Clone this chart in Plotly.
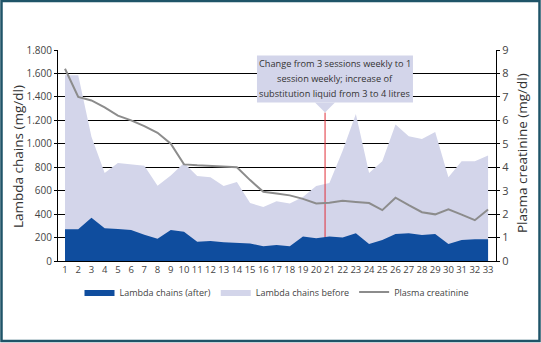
import plotly.graph_objects as go

sessions = list(range(1, 34))
lambda_before = [1585, 1585, 1060, 750, 835, 825, 812, 642, 730, 835,
                 725, 715, 640, 675, 495, 460, 510, 490, 545, 640,
                 665, 940, 1255, 750, 850, 1165, 1065, 1040, 1100, 715,
                 850, 850, 900]
lambda_after = [270, 270, 370, 280, 272, 265, 225, 190, 265, 250,
                165, 170, 160, 157, 150, 125, 137, 125, 210, 195,
                210, 200, 237, 145, 180, 231, 237, 222, 231, 145,
                180, 186, 186]
creatinine = [8.2, 7.0, 6.85, 6.55, 6.2, 6.0, 5.75, 5.47, 5.0, 4.12,
              4.08, 4.05, 4.02, 4.0, 3.45, 2.95, 2.88, 2.8, 2.65, 2.45,
              2.48, 2.57, 2.52, 2.47, 2.17, 2.7, 2.38, 2.08, 1.99, 2.2,
              1.98, 1.74, 2.2]

left_ticks = [0, 200, 400, 600, 800, 1000, 1200, 1400, 1600, 1800]
left_ticktext = ["0", "200", "400", "600", "800", "1.000", "1.200", "1.400", "1.600", "1.800"]
right_ticks = list(range(0, 10))

change_x = 20.67
note_lines = ["Change from 3 sessions weekly to 1",
              "session weekly; increase of",
              "substitution liquid from 3 to 4 litres"]
note_line_y = [1686, 1557, 1429]

DARK = "#0f4d9e"
LIGHT = "#d3d5ea"
GRAY = "#8c8c8c"
FONT = "Open Sans"

fig = go.Figure()
fig.add_trace(go.Scatter(x=sessions, y=lambda_before, name="Lambda chains before",
                         mode="lines", line=dict(width=0, color=LIGHT),
                         fill="tozeroy", fillcolor=LIGHT, legendrank=2))
fig.add_trace(go.Scatter(x=[change_x, change_x], y=[0, 1266], mode="lines",
                         line=dict(color="#e0303a", width=1), showlegend=False,
                         hoverinfo="skip"))
fig.add_trace(go.Scatter(x=sessions, y=lambda_after, name="Lambda chains (after)",
                         mode="lines", line=dict(width=0, color=DARK),
                         fill="tozeroy", fillcolor=DARK, legendrank=1))
fig.add_trace(go.Scatter(x=sessions, y=creatinine, name="Plasma creatinine",
                         mode="lines", line=dict(width=2, color=GRAY), yaxis="y2",
                         legendrank=3))

annotations = [
    dict(text=t, xref="x", yref="y", x=21.42, y=yy, showarrow=False,
         xanchor="center", yanchor="middle",
         font=dict(size=9.2, color="#333333"), align="center")
    for t, yy in zip(note_lines, note_line_y)
]
annotations += [
    dict(text="Lambda chains (mg/dl)", xref="paper", yref="paper",
         x=(18 - 58) / 438, y=(261 - 157) / 211, textangle=-90,
         xanchor="center", yanchor="middle",
         showarrow=False, font=dict(size=13.5, color="#333333")),
    dict(text="Plasma creatinine (mg/dl)", xref="paper", yref="paper",
         x=(522 - 58) / 438, y=(261 - 153) / 211, textangle=-90,
         xanchor="center", yanchor="middle",
         showarrow=False, font=dict(size=13.5, color="#333333")),
]

fig.update_layout(
    width=541, height=343,
    margin=dict(l=58, r=45, t=50, b=82, autoexpand=False),
    paper_bgcolor="white", plot_bgcolor="white",
    font=dict(family=FONT, color="#444444", size=10),
    showlegend=True,
    legend=dict(orientation="h", x=0.5, xanchor="center", y=-0.147, yanchor="middle",
                font=dict(size=9, color="#444444"),
                itemwidth=30, bgcolor="rgba(0,0,0,0)"),
    xaxis=dict(range=[0.47, 33.6], tickmode="array", tickvals=sessions,
               ticktext=[str(s) for s in sessions], showgrid=False, automargin=False,
               showline=True, linecolor="black", linewidth=1, ticks="", tickangle=0,
               tickfont=dict(size=9.5, color="#444444"), zeroline=False),
    yaxis=dict(range=[0, 1800], tickmode="array", tickvals=left_ticks, automargin=False,
               ticktext=left_ticktext, showgrid=True, gridcolor="black",
               gridwidth=1, showline=True, linecolor="black", linewidth=1,
               ticks="outside", ticklen=3, tickcolor="black", zeroline=False,
               tickfont=dict(size=10, color="#444444")),
    yaxis2=dict(range=[0, 9], overlaying="y", side="right", tickmode="array",
                tickvals=right_ticks, showgrid=False, showline=True, automargin=False,
                linecolor="black", linewidth=1, ticks="outside", ticklen=3,
                tickcolor="black", zeroline=False,
                tickfont=dict(size=11, color="#444444")),
    shapes=[
        dict(type="rect", xref="paper", yref="paper", x0=-0.129, x1=1.0993,
             y0=-0.379, y1=1.2322, line=dict(color="#1f5468", width=2.5)),
        dict(type="rect", xref="x", yref="y", x0=15.52, x1=27.32, y0=1352, y1=1754,
             fillcolor=LIGHT, line=dict(width=0), layer="above"),
        dict(type="path", xref="x", yref="y",
             path="M 19.91,1353 L 21.42,1353 L 20.67,1266 Z",
             fillcolor=LIGHT, line=dict(width=0), layer="above"),
    ],
    annotations=annotations,
)

fig.write_html("out.html", config={"displayModeBar": False},
               post_script="document.body.style.margin='0';document.body.style.overflow='hidden';")
